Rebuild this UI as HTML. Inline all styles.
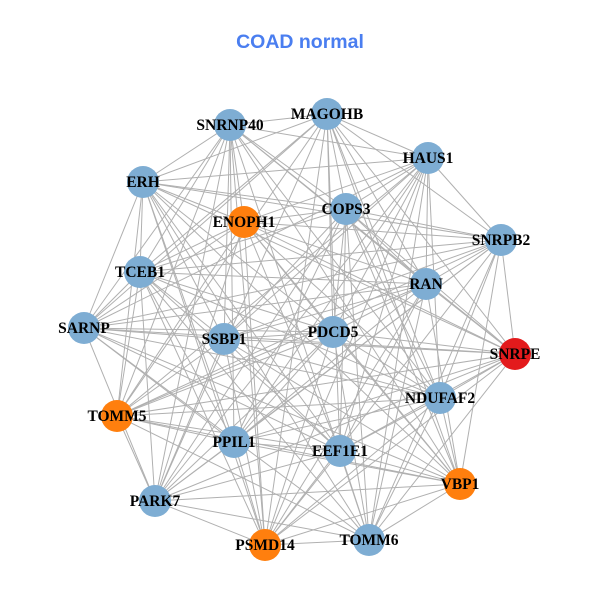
<!DOCTYPE html>
<html><head><meta charset="utf-8"><style>
html,body{margin:0;padding:0;background:#fff;}
svg{display:block;}
text{font-family:"Liberation Serif",serif;font-weight:bold;font-size:15.5px;fill:#000;}
.t{font-family:"Liberation Sans",sans-serif;font-size:19.5px;fill:#4a7ef0;}
</style></head><body>
<svg id="s" width="600" height="600" viewBox="0 0 600 600">
<g id="edges" stroke="#b0b0b0" stroke-width="1"></g>
<g id="nodes"></g>
<text class="t" x="300" y="48" text-anchor="middle">COAD normal</text>
<g text-anchor="middle">
<text x="327" y="119">MAGOHB</text>
<text x="230" y="130">SNRNP40</text>
<text x="428" y="163">HAUS1</text>
<text x="143" y="187">ERH</text>
<text x="346" y="214">COPS3</text>
<text x="244" y="227">ENOPH1</text>
<text x="501" y="245">SNRPB2</text>
<text x="140" y="277">TCEB1</text>
<text x="426" y="289">RAN</text>
<text x="84" y="333">SARNP</text>
<text x="224" y="344">SSBP1</text>
<text x="333" y="337">PDCD5</text>
<text x="515" y="359">SNRPE</text>
<text x="440" y="403">NDUFAF2</text>
<text x="117" y="421">TOMM5</text>
<text x="234" y="447">PPIL1</text>
<text x="340" y="456">EEF1E1</text>
<text x="460" y="489">VBP1</text>
<text x="155" y="506">PARK7</text>
<text x="265" y="550">PSMD14</text>
<text x="369" y="545">TOMM6</text>
</g>
</svg>
<script>
var N=[[327,114,0],[230,125,0],[428,158,0],[143,182,0],[346,209,0],[244,222,1],[501,240,0],[140,272,0],[426,284,0],[84,328,0],[224,339,0],[333,332,0],[515,354,2],[440,398,0],[117,416,1],[234,442,0],[340,451,0],[460,484,1],[155,501,0],[265,545,1],[369,540,0]];
var C=["#7eadd3","#ff7f0e","#e31a1c"];
var e=document.getElementById("edges"),n=document.getElementById("nodes"),ns="http://www.w3.org/2000/svg";
for(var i=0;i<N.length;i++)for(var j=i+1;j<N.length;j++){
 if((i*7+j*3)%5==0)continue;
 var l=document.createElementNS(ns,"line");
 l.setAttribute("x1",N[i][0]);l.setAttribute("y1",N[i][1]);l.setAttribute("x2",N[j][0]);l.setAttribute("y2",N[j][1]);e.appendChild(l);}
N.forEach(function(p){var c=document.createElementNS(ns,"circle");c.setAttribute("cx",p[0]);c.setAttribute("cy",p[1]);c.setAttribute("r",16);c.setAttribute("fill",C[p[2]]);n.appendChild(c);});
</script>
</body></html>
